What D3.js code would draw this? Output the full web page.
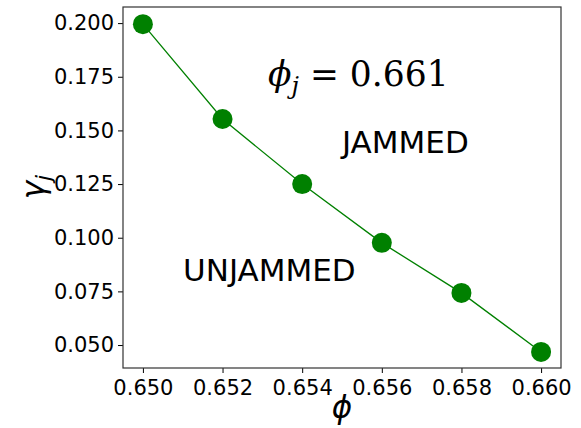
<!DOCTYPE html>
<html>
<head>
<meta charset="utf-8">
<script src="https://cdn.jsdelivr.net/npm/d3@7"></script>
<style>
  body { margin: 0; background: #fff; }
  text { font-family: "DejaVu Sans", sans-serif; }
</style>
</head>
<body>
<svg id="chart" width="581" height="428"></svg>
<script>
// values
var phi = [0.650, 0.652, 0.654, 0.656, 0.658, 0.660];
var gammaJ = [0.1995, 0.1553, 0.1250, 0.0976, 0.0743, 0.0468];
var xTicks = [0.650, 0.652, 0.654, 0.656, 0.658, 0.660];
var yTicks = [0.050, 0.075, 0.100, 0.125, 0.150, 0.175, 0.200];

var svg = d3.select("#chart");
var plotLeft = 123, plotRight = 561, plotTop = 7, plotBottom = 368;

var x = d3.scaleLinear().domain([0.6495, 0.6605]).range([plotLeft, plotRight]);
var y = d3.scaleLinear().domain([0.0393, 0.2075]).range([plotBottom, plotTop]);

var xAxis = svg.append("g")
  .attr("transform", "translate(0," + plotBottom + ")")
  .call(d3.axisBottom(x).tickValues(xTicks).tickFormat(d3.format(".3f")).tickSize(5).tickPadding(4));
var yAxis = svg.append("g")
  .attr("transform", "translate(" + plotLeft + ",0)")
  .call(d3.axisLeft(y).tickValues(yTicks).tickFormat(d3.format(".3f")).tickSize(5).tickPadding(4));

[xAxis, yAxis].forEach(function(a) {
  a.select(".domain").remove();
  a.selectAll("text").style("font-size", "21px").attr("fill", "#000");
  a.selectAll("line").attr("stroke", "#000").attr("stroke-width", 1);
});
xAxis.selectAll("text").attr("dy", "0.85em");

svg.append("rect")
  .attr("x", plotLeft).attr("y", plotTop)
  .attr("width", plotRight - plotLeft).attr("height", plotBottom - plotTop)
  .attr("fill", "none").attr("stroke", "#333").attr("stroke-width", 1.2);

var pts = phi.map(function(d, i) { return [d, gammaJ[i]]; });

svg.append("path")
  .datum(pts)
  .attr("fill", "none")
  .attr("stroke", "#008000")
  .attr("stroke-width", 1.3)
  .attr("d", d3.line().x(function(d) { return x(d[0]); }).y(function(d) { return y(d[1]); }));

svg.selectAll(".pt")
  .data(pts)
  .enter()
  .append("circle")
    .attr("class", "pt")
    .attr("cx", function(d) { return x(d[0]); })
    .attr("cy", function(d) { return y(d[1]); })
    .attr("r", 10)
    .attr("fill", "#008000");

// annotations
var eq = svg.append("text")
  .attr("x", 268).attr("y", 86)
  .style("font-family", "'DejaVu Serif', serif")
  .style("font-size", "34.5px");
eq.append("tspan").style("font-style", "italic").text("ϕ");
eq.append("tspan").attr("dy", 8).style("font-size", "24px").style("font-style", "italic").text("j");
eq.append("tspan").attr("dy", -8).text(" = 0.661");

svg.append("text")
  .attr("x", 342).attr("y", 153)
  .style("font-size", "31px")
  .text("JAMMED");

svg.append("text")
  .attr("x", 183).attr("y", 281)
  .style("font-size", "31px")
  .text("UNJAMMED");

// axis labels
svg.append("text")
  .attr("x", 342).attr("y", 418)
  .attr("text-anchor", "middle")
  .style("font-size", "31px")
  .style("font-style", "italic")
  .text("ϕ");

var yl = svg.append("text")
  .attr("transform", "translate(44,187) rotate(-90)")
  .attr("text-anchor", "middle")
  .style("font-size", "31px")
  .style("font-style", "italic");
yl.append("tspan").text("γ");
yl.append("tspan").attr("dy", 7).style("font-size", "22px").text("j");
</script>
</body>
</html>
